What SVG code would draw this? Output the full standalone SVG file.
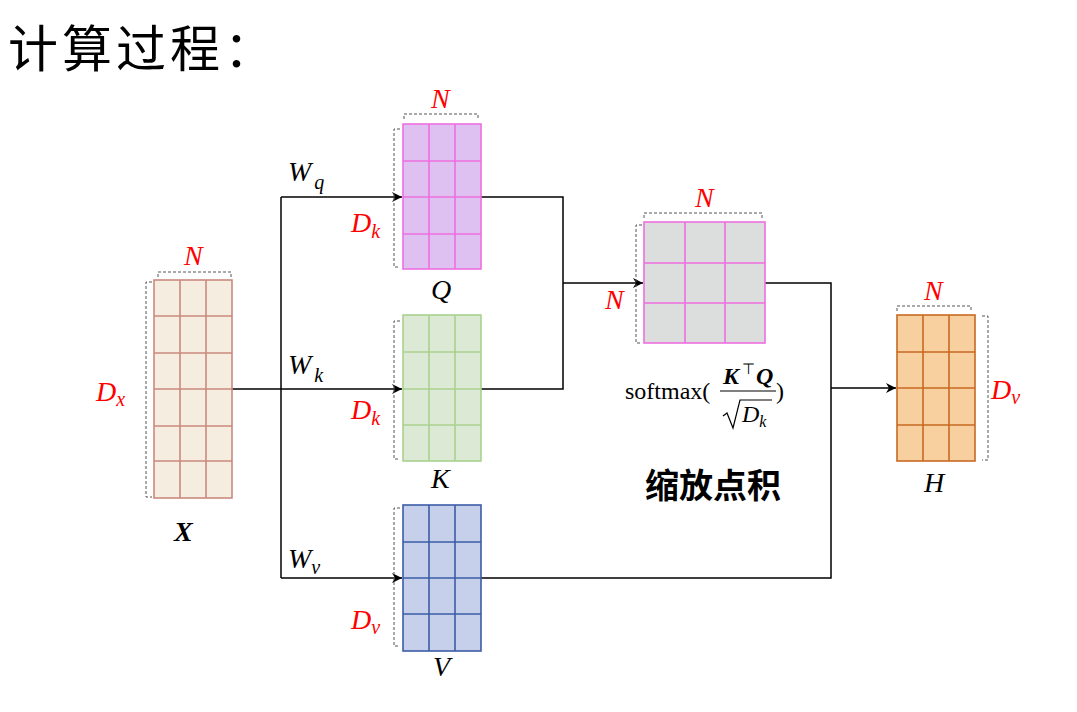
<svg xmlns="http://www.w3.org/2000/svg" width="1077" height="712" viewBox="0 0 1077 712">
<defs>
<marker id="arr" viewBox="0 0 10 10" refX="10" refY="5" markerWidth="10" markerHeight="10" markerUnits="userSpaceOnUse" orient="auto">
<path d="M0,0 L10,5 L0,10 L3,5 Z" fill="#000"/>
</marker>
</defs>
<style>
.conn{fill:none;stroke:#000;stroke-width:1.5}
.brk{fill:none;stroke:#555;stroke-width:1;stroke-dasharray:3,2}
.m{font-family:"Liberation Serif",serif;font-style:italic;font-size:28px}
.red{fill:#ff0000}
.blk{fill:#000}
.sub{font-size:20px}
.mx{stroke-width:1.6}
.x{fill:#f5ede0;stroke:#c98a7e}
.q{fill:#dfc1f1;stroke:#ee6fe0}
.k{fill:#dce9d5;stroke:#a9d18e}
.v{fill:#c6d0ea;stroke:#3c5ca6}
.s{fill:#dcdddd;stroke:#ee6fe0}
.h{fill:#f8cf9f;stroke:#c86a22}
</style>
<rect width="1077" height="712" fill="#fff"/>
<text x="8" y="67" font-family="'Noto Sans CJK SC',sans-serif" font-size="50" letter-spacing="4" fill="#000">计算过程：</text>

<g id="connectors">
<path class="conn" d="M232,389 H281"/>
<path class="conn" d="M281,197 V578"/>
<path class="conn" d="M281,197 H402" marker-end="url(#arr)"/>
<path class="conn" d="M281,389 H402" marker-end="url(#arr)"/>
<path class="conn" d="M281,578 H402" marker-end="url(#arr)"/>
<path class="conn" d="M481,197 H563 V389 H481"/>
<path class="conn" d="M563,283 H643" marker-end="url(#arr)"/>
<path class="conn" d="M765,283 H831 V578 H481"/>
<path class="conn" d="M831,388 H896" marker-end="url(#arr)"/>
</g>

<g id="X">
<g class="x mx">
<rect x="154" y="280" width="78" height="218"/>
<path d="M180,280 V498 M206,280 V498 M154,316 H232 M154,353 H232 M154,389 H232 M154,426 H232 M154,461 H232" fill="none"/>
</g>
<path class="brk" d="M158,277 V272 H231 V277"/>
<path class="brk" d="M152,282 H146 V497 H152"/>
<text class="m red" x="184" y="265">N</text>
<text class="m red" x="96" y="401">D<tspan class="sub" dy="5">x</tspan></text>
<text class="m blk" x="174" y="541" font-weight="bold">X</text>
</g>

<g id="Q">
<g class="q mx">
<rect x="403" y="124" width="78" height="145"/>
<path d="M429,124 V269 M455,124 V269 M403,161 H481 M403,197 H481 M403,234 H481" fill="none"/>
</g>
<path class="brk" d="M404,119 V114 H478 V119"/>
<path class="brk" d="M400,129 H394 V267 H400"/>
<text class="m red" x="431" y="108">N</text>
<text class="m red" x="351" y="232">D<tspan class="sub" dy="6">k</tspan></text>
<text class="m blk" x="288" y="181">W<tspan class="sub" dy="8" dx="3">q</tspan></text>
<text class="m blk" x="431" y="299">Q</text>
</g>

<g id="K">
<g class="k mx">
<rect x="403" y="315" width="78" height="146"/>
<path d="M429,315 V461 M455,315 V461 M403,352 H481 M403,389 H481 M403,425 H481" fill="none"/>
</g>
<path class="brk" d="M400,321 H394 V459 H400"/>
<text class="m red" x="351" y="419">D<tspan class="sub" dy="6">k</tspan></text>
<text class="m blk" x="288" y="374">W<tspan class="sub" dy="8" dx="3">k</tspan></text>
<text class="m blk" x="431" y="488">K</text>
</g>

<g id="V">
<g class="v mx">
<rect x="403" y="505" width="78" height="146"/>
<path d="M429,505 V651 M455,505 V651 M403,542 H481 M403,578 H481 M403,614 H481" fill="none"/>
</g>
<path class="brk" d="M400,508 H394 V646 H400"/>
<text class="m red" x="351" y="629">D<tspan class="sub" dy="5">v</tspan></text>
<text class="m blk" x="288" y="568">W<tspan class="sub" dy="6">v</tspan></text>
<text class="m blk" x="433" y="676">V</text>
</g>

<g id="S">
<g class="s mx">
<rect x="644" y="222" width="121" height="121"/>
<path d="M685,222 V343 M725,222 V343 M644,263 H765 M644,303 H765" fill="none"/>
</g>
<path class="brk" d="M644,218 V213 H762 V218"/>
<path class="brk" d="M642,225 H636 V343 H642"/>
<text class="m red" x="695" y="207">N</text>
<text class="m red" x="605" y="309">N</text>
<g font-family="'Liberation Serif',serif" fill="#000">
<text x="625" y="399" font-size="24">softmax(</text>
<text x="723" y="384" font-size="24" font-style="italic" font-weight="bold">K</text>
<text x="742" y="374" font-size="15">⊤</text>
<text x="756" y="384" font-size="24" font-style="italic" font-weight="bold">Q</text>
<line x1="720" y1="391" x2="776" y2="391" stroke="#000" stroke-width="1.2"/>
<path d="M723,416 L727,413 L733,428 L740,400 H772" fill="none" stroke="#000" stroke-width="1.2"/>
<text x="742" y="422" font-size="24" font-style="italic">D<tspan font-size="16" dy="5">k</tspan></text>
<text x="776" y="399" font-size="24">)</text>
</g>
<text x="713" y="498" text-anchor="middle" font-family="'Noto Sans CJK SC',sans-serif" font-size="34" font-weight="bold" fill="#000">缩放点积</text>
</g>

<g id="H">
<g class="h mx">
<rect x="897" y="315" width="78" height="146"/>
<path d="M923,315 V461 M949,315 V461 M897,352 H975 M897,388 H975 M897,425 H975" fill="none"/>
</g>
<path class="brk" d="M897,311 V306 H971 V311"/>
<path class="brk" d="M982,316 H988 V460 H982"/>
<text class="m red" x="924" y="300">N</text>
<text class="m red" x="991" y="399">D<tspan class="sub" dy="5">v</tspan></text>
<text class="m blk" x="924" y="492">H</text>
</g>
</svg>
